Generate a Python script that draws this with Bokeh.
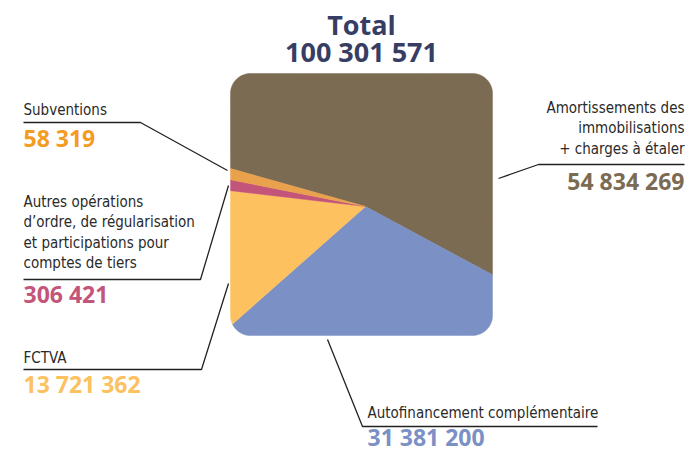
import numpy as np
from bokeh.plotting import figure
from bokeh.models import Range1d
from bokeh.core.properties import value
from bokeh.embed import file_html
from bokeh.resources import INLINE

# ---- data ----
categories = ["Amortissements des immobilisations + charges à étaler",
              "Autofinancement complémentaire",
              "FCTVA",
              "Autres opérations d'ordre, de régularisation et participations pour comptes de tiers",
              "Subventions"]
amounts = [54834269, 31381200, 13721362, 306421, 58319]
total_amount = 100301571
slice_colors = ["#7c6b53", "#7b90c4", "#fdc160", "#c3557a", "#e9a14c"]
value_colors = ["#7c6b53", "#7b90c4", "#fdc160", "#c3557a", "#f39c1f"]
label_lines = [["Amortissements des", "immobilisations", "+ charges à étaler"],
               ["Autofinancement complémentaire"],
               ["FCTVA"],
               ["Autres opérations", "d’ordre, de régularisation", "et participations pour", "comptes de tiers"],
               ["Subventions"]]


def fmt(v):
    return f"{v:,}".replace(",", " ")


W, H = 687, 454
p = figure(width=W, height=H, x_range=Range1d(0, W), y_range=Range1d(H, 0),
           output_backend="svg", toolbar_location=None, min_border=0)
p.axis.visible = False
p.grid.visible = False
p.outline_line_color = None
p.background_fill_color = "white"

# ---- pie clipped to a rounded square ----
sq_cx, sq_cy, half, corner = 361.0, 204.0, 131.0, 20.0
pcx, pcy = 365.0, 206.0
start_deg = 164.3
min_deg = 4.5

vals = np.array(amounts, dtype=float)
deg = vals / vals.sum() * 360.0
small = deg < min_deg
deg[small] = min_deg
deg[~small] *= (360.0 - min_deg * small.sum()) / deg[~small].sum()


def boundary(theta_deg):
    th = np.radians(theta_deg)
    dx, dy = np.cos(th), -np.sin(th)
    lo = np.zeros_like(th)
    hi = np.full_like(th, 400.0)
    for _ in range(50):
        mid = (lo + hi) / 2
        px = pcx + mid * dx - sq_cx
        py = pcy + mid * dy - sq_cy
        qx = np.abs(px) - (half - corner)
        qy = np.abs(py) - (half - corner)
        sd = np.hypot(np.maximum(qx, 0), np.maximum(qy, 0)) + np.minimum(np.maximum(qx, qy), 0) - corner
        inside = sd < 0
        lo = np.where(inside, mid, lo)
        hi = np.where(inside, hi, mid)
    return pcx + lo * dx, pcy + lo * dy


xs_list, ys_list = [], []
a = start_deg
for d in deg:
    b = a - d
    th = np.linspace(a, b, max(int(d * 4), 3))
    bx, by = boundary(th)
    xs_list.append([pcx] + list(bx))
    ys_list.append([pcy] + list(by))
    a = b

p.patches(xs_list, ys_list, fill_color=slice_colors, line_color=slice_colors, line_width=0.5)

# baseline correction (renderer draws alphabetic baseline ~0.4em low)
BL = 0.4

# ---- title ----
title_font = value("Open Sans")
p.text(x=[361, 361], y=[35 - BL * 27, 62 - BL * 27], text=["Total", fmt(total_amount)],
       text_font=title_font, text_font_style="bold", text_font_size="27px",
       text_color="#383d63", text_align="center", text_baseline="alphabetic")

label_font = value("DejaVu Sans Condensed")
num_font = value("Open Sans")
label_color = "#2a2a2a"
lead = "#222222"
LFS, NFS = 15, 23


def label_block(lines, x, y0, step, align):
    ys = [y0 + i * step - BL * LFS for i in range(len(lines))]
    p.text(x=[x] * len(lines), y=ys, text=lines, text_font=label_font,
           text_font_size=f"{LFS}px", text_color=label_color, text_align=align,
           text_baseline="alphabetic")


def number(v, x, y, color, align):
    p.text(x=[x], y=[y - 0.42 * NFS], text=[fmt(v)], text_font=num_font, text_font_style="bold",
           text_font_size=f"{NFS}px", text_color=color, text_align=align,
           text_baseline="alphabetic")


# Amortissements (right)
label_block(label_lines[0], 684, 113, 20.8, "right")
number(amounts[0], 684, 190, value_colors[0], "right")
p.line([498, 538, 684], [178, 164, 164], line_color=lead, line_width=1.3)

# Autofinancement (bottom)
label_block(label_lines[1], 367, 418, 20.8, "left")
number(amounts[1], 367, 446, value_colors[1], "left")
p.line([327, 362, 597], [339, 426, 426], line_color=lead, line_width=1.3)

# FCTVA
label_block(label_lines[2], 23, 363, 20.8, "left")
number(amounts[2], 23, 393, value_colors[2], "left")
p.line([23, 201, 228], [369, 369, 283], line_color=lead, line_width=1.3)

# Autres opérations
label_block(label_lines[3], 23, 207, 20.6, "left")
number(amounts[3], 23, 303, value_colors[3], "left")
p.line([23, 200, 228], [279, 279, 185], line_color=lead, line_width=1.3)

# Subventions
label_block(label_lines[4], 23, 115, 20.8, "left")
number(amounts[4], 23, 147, value_colors[4], "left")
p.line([23, 140, 227], [122, 122, 170], line_color=lead, line_width=1.3)

open("out.html", "w").write(file_html(p, INLINE))
